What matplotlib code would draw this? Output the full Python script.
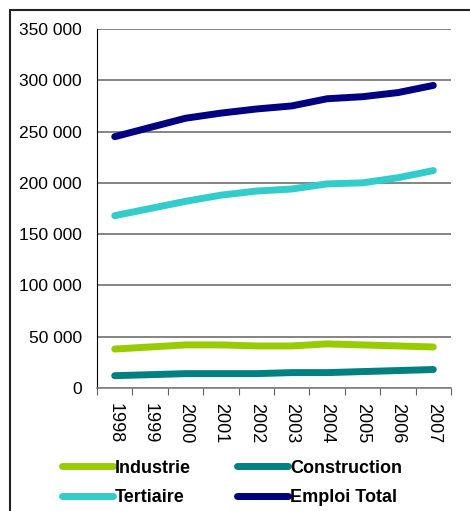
import matplotlib
matplotlib.use("Agg")
import matplotlib.pyplot as plt
from matplotlib.patches import Rectangle
import numpy as np

plt.rcParams['font.family'] = ['Liberation Sans', 'DejaVu Sans']

years = ['1998', '1999', '2000', '2001', '2002', '2003', '2004', '2005', '2006', '2007']
industrie = [38000, 40000, 42000, 42000, 41000, 41000, 43000, 42000, 41000, 40000]
construction = [12000, 13000, 14000, 14000, 14000, 15000, 15000, 16000, 17000, 18000]
tertiaire = [168000, 175000, 182000, 188000, 192000, 194000, 199000, 200000, 205000, 212000]
emploi_total = [245000, 254000, 263000, 268000, 272000, 275000, 282000, 284000, 288000, 295000]
yticks = [0, 50000, 100000, 150000, 200000, 250000, 300000, 350000]
ytick_labels = ['0', '50 000', '100 000', '150 000', '200 000', '250 000', '300 000', '350 000']

series = [
    ('Industrie', industrie, '#99CC00'),
    ('Construction', construction, '#008080'),
    ('Tertiaire', tertiaire, '#33CCCC'),
    ('Emploi Total', emploi_total, '#000080'),
]

W, H = 470, 511
fig = plt.figure(figsize=(W / 100, H / 100), dpi=100)
ax = fig.add_axes([97 / W, 1 - 388 / H, (451 - 97) / W, (388 - 29) / H])

x = np.arange(len(years))
handles = {}
for name, vals, col in series:
    h, = ax.plot(x, vals, color=col, lw=5, solid_capstyle='round', solid_joinstyle='round', label=name, zorder=3)
    handles[name] = h

ax.set_xlim(-0.5, len(years) - 0.5)
ax.set_ylim(0, 350000)
ax.set_yticks(yticks)
ax.set_yticklabels(ytick_labels, fontsize=12.5)
ax.yaxis.grid(True, color='#707070', lw=1.2)
ax.set_axisbelow(True)
ax.tick_params(axis='y', length=0, pad=11)

ax.set_xticks(np.arange(len(years) + 1) - 0.5)
ax.set_xticklabels([])
ax.set_xticks(x, minor=True)
ax.set_xticklabels(years, minor=True, rotation=-90, fontsize=13, va='top', ha='center')
ax.tick_params(axis='x', which='major', length=5, direction='out', color='#606060')
ax.tick_params(axis='x', which='minor', length=0, pad=11)

for s in ['top', 'right']:
    ax.spines[s].set_visible(False)
ax.spines['left'].set_color('black')
ax.spines['bottom'].set_color('#808080')
ax.spines['bottom'].set_linewidth(1.2)

order = ['Industrie', 'Tertiaire', 'Construction', 'Emploi Total']
leg = fig.legend(handles=[handles[n] for n in order], labels=order,
           ncol=2, loc='center', bbox_to_anchor=(232 / W, 1 - 483 / H),
           frameon=False, prop={'weight': 'bold', 'size': 13},
           handlelength=2.8, handletextpad=0.1, columnspacing=2.6, labelspacing=0.7)

fig.patches.append(Rectangle((10 / W, -0.1), 1.2, 1 - 10 / H + 0.1, transform=fig.transFigure,
                             fill=False, edgecolor='#222222', lw=1.5, zorder=0))

fig.savefig('out.png', dpi=100)
